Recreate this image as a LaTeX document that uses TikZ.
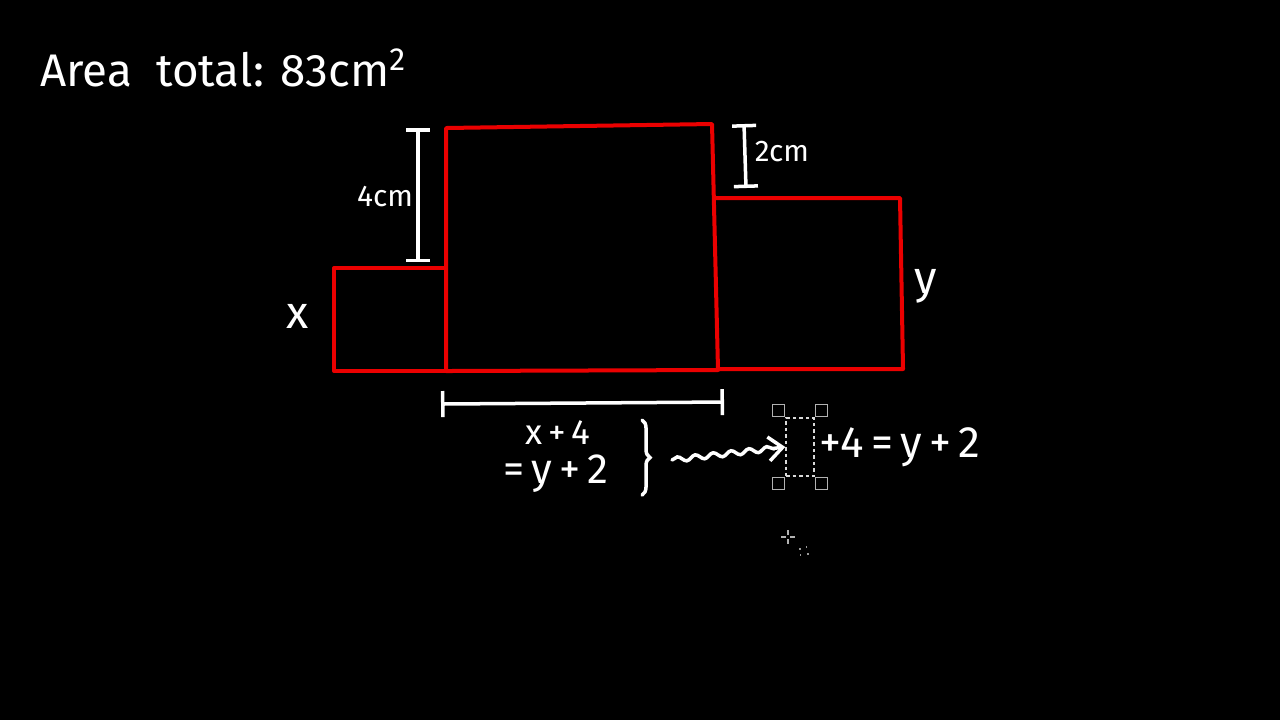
\documentclass[tikz,border=0pt]{standalone}
\usepackage{fontspec}
\setmainfont{Fira Sans}
\usepackage{tikz}
\usetikzlibrary{arrows.meta,decorations.pathmorphing,decorations.pathreplacing}
\tikzset{
   wall/.style={draw=red!92!black, line width=0.04cm, line join=round},
   chalk/.style={draw=white, line width=0.035cm, line cap=round},
   dim line/.style={chalk, {Bar[width=0.24cm,line width=0.035cm]}-{Bar[width=0.24cm,line width=0.035cm]}},
   chalk text/.style={text=white, inner sep=1pt, font=\fontsize{12}{14}\selectfont},
   small text/.style={chalk text, font=\fontsize{8.5}{10}\selectfont},
   grip/.style={draw=white!70!black, line width=0.4pt, minimum size=0.12cm, inner sep=0pt}
}

\begin{document}
\begin{tikzpicture}[x=0.01cm,y=-0.01cm]
\fill[black] (0,0) rectangle (1280,720);
\useasboundingbox (0,0) rectangle (1280,720);

% title
\node[chalk text, font=\fontsize{13}{15}\selectfont, anchor=base west] (title) at (36,86) {Area\ \ total: 83cm\textsuperscript{2}};

% figure
\draw[wall] (334,268) rectangle (446,371);
\draw[wall] (446,371) -- (446,128) -- (712,124) -- (718,370) -- cycle;
\draw[wall] (716,198) -- (900,198) -- (903,369) -- (718,369);

% dimensions
\coordinate (l top) at (418,128);
\coordinate (l bot) at (418,262);
\coordinate (r top) at (744,124);
\coordinate (r bot) at (746,188);
\coordinate (b left) at (441,404);
\coordinate (b right) at (724,402);
\node[small text] (four cm) at (385,197) {4cm};
\node[small text] (two cm) at (782,152) {2cm};
\node[chalk text, font=\fontsize{13}{15}\selectfont] (x) at (298,316) {x};
\node[chalk text, font=\fontsize{13}{15}\selectfont] (y) at (926,286) {y};

% equations
\node[chalk text, font=\fontsize{10}{12}\selectfont] (sum x) at (558,433) {x\,+\,4};
\node[chalk text, font=\fontsize{12}{14}\selectfont] (sum y) at (556,474) {=\,y\,+\,2};
\coordinate (brace top) at (642,420);
\coordinate (brace bot) at (642,495);
\coordinate (brace tip) at (672,460);
\node[draw=white!85!black, dash pattern=on 0.035cm off 0.03cm, line width=0.4pt,
      minimum width=0.28cm, minimum height=0.58cm, inner sep=0pt] (sel) at (800,447) {};
\node[chalk text, font=\fontsize{12.5}{15}\selectfont, anchor=west] (result) at (815,447) {+4\,=\,y\,+\,2};

% selection handles
\foreach \c/\a in {north west/south east, north east/south west, south west/north east, south east/north west}
  \node[grip, anchor=\a] at (sel.\c) {};

% cursor
\node[grip, draw=white!60!black, dotted, minimum size=0.08cm] (cursor box) at (804,551) {};
\draw[white!70!black, line width=0.4pt] (788,530) -- (788,535) (788,539) -- (788,544)
  (781,537) -- (786,537) (790,537) -- (795,537);

\draw[dim line] (l top) -- (l bot);
\draw[dim line] (r top) -- (r bot);
\draw[dim line, {Bar[width=0.26cm,line width=0.035cm]}-{Bar[width=0.26cm,line width=0.035cm]}] (b left) -- (b right);
\draw[chalk, decorate, decoration={brace, amplitude=0.08cm}] (brace top) -- (brace bot);
\draw[chalk, -{Straight Barb[length=0.14cm,width=0.24cm,line width=0.035cm]},
      decorate, decoration={snake, amplitude=0.025cm, segment length=0.18cm, post length=0.12cm}]
  (brace tip) -- (sel.west);

\end{tikzpicture}
\end{document}
